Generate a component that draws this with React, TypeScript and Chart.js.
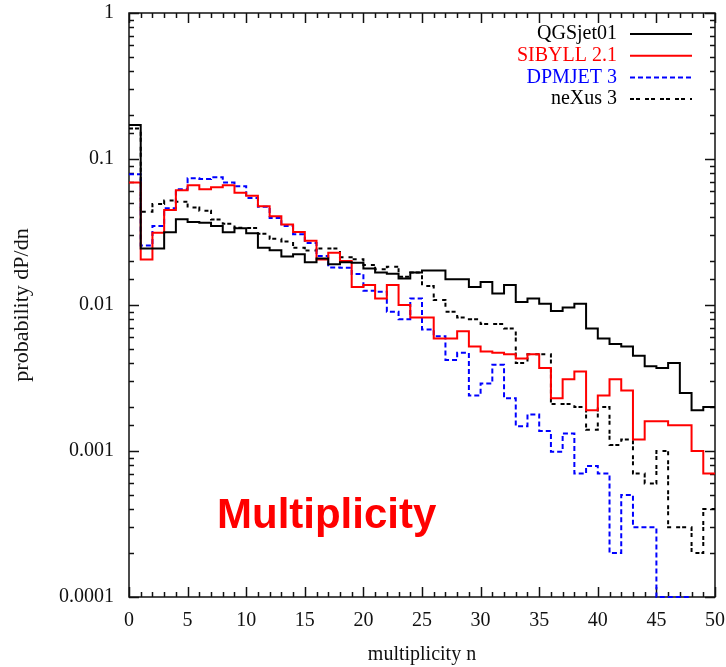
import React, { useEffect, useRef } from 'react';
import { Chart, registerables } from 'chart.js';

Chart.register(...registerables);

// Multiplicity bins (lower edge n, width 1)
const multiplicityBins = [
  0, 1, 2, 3, 4, 5, 6, 7, 8, 9,
  10, 11, 12, 13, 14, 15, 16, 17, 18, 19,
  20, 21, 22, 23, 24, 25, 26, 27, 28, 29,
  30, 31, 32, 33, 34, 35, 36, 37, 38, 39,
  40, 41, 42, 43, 44, 45, 46, 47, 48, 49,
];

const qgsjet01 = [
  0.171, 0.0244, 0.0244, 0.0315, 0.0386, 0.037, 0.0366, 0.0348, 0.0315, 0.0335,
  0.031, 0.0247, 0.0237, 0.0215, 0.0223, 0.0196, 0.0208, 0.019, 0.0196, 0.0195,
  0.0178, 0.0167, 0.0164, 0.0152, 0.0167, 0.0172, 0.0172, 0.015, 0.015, 0.0133,
  0.0144, 0.012, 0.0137, 0.0105, 0.0111, 0.0102, 0.0091, 0.0096, 0.0102, 0.0069,
  0.0059, 0.0054, 0.0052, 0.0045, 0.0038, 0.0037, 0.004, 0.0025, 0.0019, 0.002,
];

const sibyll21 = [
  0.069, 0.0205, 0.0313, 0.0447, 0.061, 0.066, 0.062, 0.064, 0.066, 0.0588,
  0.056, 0.0475, 0.0405, 0.0356, 0.0316, 0.0276, 0.0205, 0.0228, 0.02, 0.0133,
  0.0137, 0.0111, 0.0137, 0.01, 0.0082, 0.0082, 0.0059, 0.0059, 0.0066, 0.0052,
  0.0048, 0.0047, 0.0046, 0.0043, 0.0046, 0.0037, 0.0023, 0.0031, 0.0035, 0.0019,
  0.0024, 0.0031, 0.0026, 0.0012, 0.0016, 0.0016, 0.0015, 0.0015, 0.001, 0.0007,
];

const dpmjet3 = [
  0.0786, 0.0256, 0.0348, 0.046, 0.062, 0.0738, 0.073, 0.075, 0.069, 0.065,
  0.054, 0.047, 0.0395, 0.0348, 0.0305, 0.0266, 0.0217, 0.0181, 0.018, 0.0163,
  0.0125, 0.0123, 0.009, 0.008, 0.0111, 0.0068, 0.0061, 0.0042, 0.0047, 0.0024,
  0.0029, 0.0039, 0.0023, 0.00148, 0.00178, 0.00137, 0.00099, 0.00132, 0.0007, 0.00079,
  0.0007, 0.0002, 0.0005, 0.0003, 0.0003, 0.0001, 0.0001, 0.0001, null, null,
];

const nexus3 = [
  0.162, 0.0436, 0.0492, 0.052, 0.051, 0.0465, 0.0443, 0.0385, 0.036, 0.0338,
  0.0337, 0.0308, 0.0284, 0.0272, 0.0247, 0.0236, 0.0244, 0.0244, 0.0212, 0.0206,
  0.0188, 0.0176, 0.0183, 0.0156, 0.0167, 0.0135, 0.0108, 0.009, 0.0082, 0.008,
  0.0074, 0.0074, 0.0069, 0.004, 0.0046, 0.0046, 0.0021, 0.0021, 0.002, 0.0014,
  0.002, 0.0011, 0.0012, 0.0007, 0.0006, 0.001, 0.0003, 0.0003, 0.0002, 0.0004,
];

const seriesLabels = ['QGSjet01', 'SIBYLL 2.1', 'DPMJET 3', 'neXus 3'];
const yTickLabels = ['1', '0.1', '0.01', '0.001', '0.0001'];

const SERIF = '"Liberation Serif", "Times New Roman", serif';

function histPoints(values: (number | null)[]) {
  const pts: { x: number; y: number }[] = [];
  for (let i = 0; i < multiplicityBins.length; i++) {
    const v = values[i];
    if (v === null || v === undefined) continue;
    pts.push({ x: multiplicityBins[i], y: v });
    const next = values[i + 1];
    if (i + 1 >= multiplicityBins.length || next === null || next === undefined) {
      pts.push({ x: multiplicityBins[i] + 1, y: v });
    }
  }
  return pts;
}

const framePlugin = {
  id: 'gnuFrame',
  beforeDatasetsDraw(chart: any) {
    const { ctx, chartArea: a, scales } = chart;
    ctx.save();
    ctx.strokeStyle = '#111';
    ctx.lineWidth = 1.5;
    ctx.strokeRect(a.left, a.top, a.right - a.left, a.bottom - a.top);
    const seg = (x1: number, y1: number, x2: number, y2: number) => {
      ctx.beginPath();
      ctx.moveTo(x1, y1);
      ctx.lineTo(x2, y2);
      ctx.stroke();
    };
    const xs = scales.x;
    for (let v = xs.min; v <= xs.max; v++) {
      const px = Math.round(xs.getPixelForValue(v)) + 0.5;
      const len = v % 5 === 0 ? 10 : 5;
      seg(px, a.bottom, px, a.bottom - len);
      seg(px, a.top, px, a.top + len);
    }
    const ys = scales.y;
    ys.ticks.forEach((t: any) => {
      const py = Math.round(ys.getPixelForValue(t.value)) + 0.5;
      const l = Math.log10(t.value);
      const major = Math.abs(l - Math.round(l)) < 1e-6;
      const len = major ? 10 : 5;
      seg(a.left, py, a.left + len, py);
      seg(a.right, py, a.right - len, py);
    });
    ctx.restore();
  },
  afterDatasetsDraw(chart: any) {
    const { ctx, chartArea: a } = chart;
    ctx.save();
    // legend
    ctx.font = `20px ${SERIF}`;
    ctx.textAlign = 'right';
    ctx.textBaseline = 'middle';
    chart.data.datasets.forEach((ds: any, i: number) => {
      const y = a.top + 21 + i * 21.7;
      ctx.fillStyle = ds.borderColor;
      ctx.fillText(ds.label, a.right - 98, y);
      ctx.strokeStyle = ds.borderColor;
      ctx.lineWidth = 2;
      ctx.setLineDash(ds.borderDash || []);
      ctx.beginPath();
      ctx.moveTo(a.right - 85, y);
      ctx.lineTo(a.right - 23, y);
      ctx.stroke();
    });
    ctx.setLineDash([]);
    // annotation
    ctx.font = 'bold 42px "Liberation Sans", Arial, sans-serif';
    ctx.fillStyle = '#ff0000';
    ctx.textAlign = 'left';
    ctx.textBaseline = 'alphabetic';
    ctx.fillText('Multiplicity', a.left + 88, a.bottom - 69);
    ctx.restore();
  },
};

export default function App() {
  const ref = useRef<HTMLCanvasElement | null>(null);

  useEffect(() => {
    if (!ref.current) return;
    const mk = (label: string, values: (number | null)[], color: string, dash: number[]) => ({
      label,
      data: histPoints(values),
      borderColor: color,
      backgroundColor: color,
      borderWidth: 2,
      borderDash: dash,
      stepped: 'before' as const,
      pointRadius: 0,
      fill: false,
      clip: 4,
    });
    const chart = new Chart(ref.current, {
      type: 'line',
      data: {
        datasets: [
          mk(seriesLabels[0], qgsjet01, '#000000', []),
          mk(seriesLabels[1], sibyll21, '#ff0000', []),
          mk(seriesLabels[2], dpmjet3, '#0000ff', [5, 3]),
          mk(seriesLabels[3], nexus3, '#000000', [4, 2, 4, 5]),
        ],
      },
      options: {
        animation: false,
        responsive: false,
        events: [],
        layout: { padding: { left: 0, top: 13, right: 11, bottom: 0 } },
        plugins: {
          legend: { display: false },
          tooltip: { enabled: false },
        },
        scales: {
          x: {
            type: 'linear',
            min: 0,
            max: 50,
            grid: { display: false, drawTicks: false },
            border: { display: false },
            ticks: {
              stepSize: 5,
              padding: 12,
              color: '#111',
              font: { family: SERIF, size: 20 },
              maxRotation: 0,
            },
            title: {
              display: true,
              text: 'multiplicity n',
              color: '#111',
              font: { family: SERIF, size: 20 },
              padding: { top: 0, bottom: 0 },
            },
            afterFit: (s: any) => {
              s.height = 70;
              s.paddingLeft = 0;
              s.paddingRight = 0;
            },
          },
          y: {
            type: 'logarithmic',
            min: 0.0001,
            max: 1,
            grid: { display: false, drawTicks: false },
            border: { display: false },
            ticks: {
              autoSkip: false,
              padding: 15,
              color: '#111',
              font: { family: SERIF, size: 20 },
              callback: (value: any) => {
                const v = Number(value);
                const l = Math.log10(v);
                if (Math.abs(l - Math.round(l)) > 1e-6) return '';
                const idx = -Math.round(l);
                return yTickLabels[idx] ?? '';
              },
            },
            title: {
              display: true,
              text: 'probability dP/dn',
              color: '#111',
              font: { family: SERIF, size: 22 },
              padding: { top: 9, bottom: 0 },
            },
            afterFit: (s: any) => {
              s.width = 129;
              s.paddingTop = 0;
              s.paddingBottom = 0;
            },
          },
        },
      },
      plugins: [framePlugin],
    });
    return () => chart.destroy();
  }, []);

  return (
    <div style={{ position: 'absolute', left: 0, top: 0, width: 726, height: 667, background: '#fff' }}>
      <canvas ref={ref} width={726} height={667} style={{ width: 726, height: 667 }} />
    </div>
  );
}
